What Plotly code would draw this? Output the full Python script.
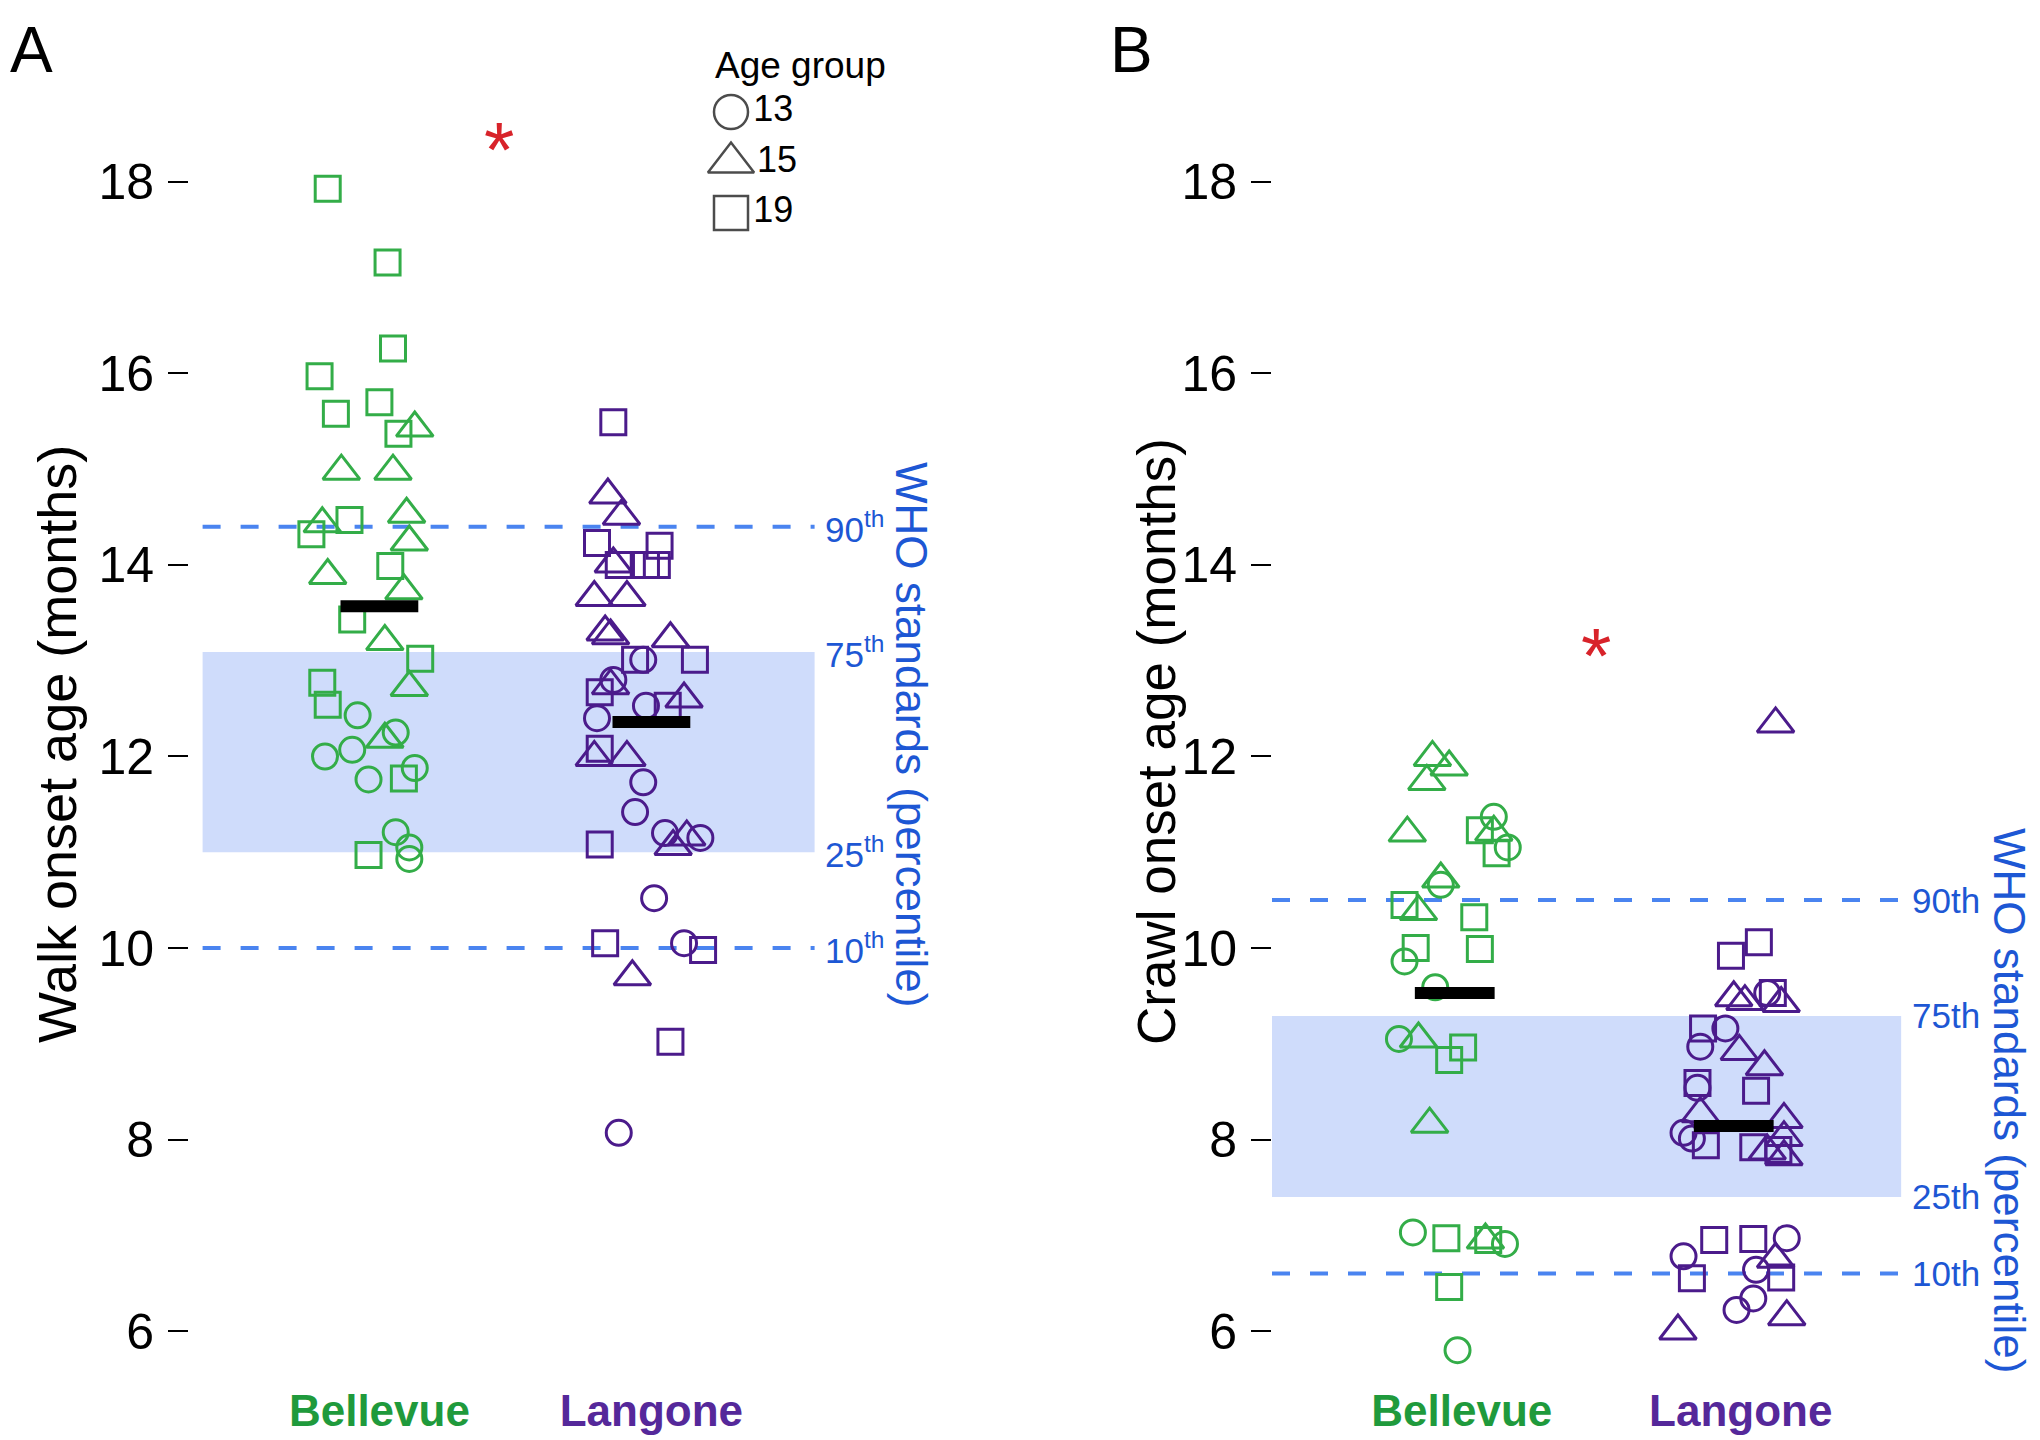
import plotly.graph_objects as go

FONT = "Liberation Sans, Arial, Helvetica, sans-serif"
GREEN = "#33ad48"
GREEN_TXT = "#1f9a3c"
PURPLE = "#4b1b8b"
PURPLE_TXT = "#55289a"
BLUE_LINE = "#4a84f0"
BAND = "#cfdcfb"
WHO_TXT = "#1d57d4"
RED = "#d8232a"

sites = ["Bellevue", "Langone"]
site_pos = [1, 2]
age_groups = ["13", "15", "19"]

# ---------- Panel A: walk onset (months) ----------
walk_bel_19 = [17.93, 17.16, 16.26, 15.97, 15.58, 15.70, 15.37, 14.47, 14.32, 13.99, 13.43, 13.02, 12.77, 12.54, 11.77, 10.97]
walk_bel_19_jit = [-0.19, 0.03, 0.05, -0.22, -0.16, 0.0, 0.07, -0.11, -0.25, 0.04, -0.10, 0.15, -0.21, -0.19, 0.09, -0.04]
walk_bel_15 = [15.43, 14.98, 14.98, 14.53, 14.43, 14.24, 13.89, 13.73, 13.20, 12.72, 12.18]
walk_bel_15_jit = [0.13, -0.14, 0.05, 0.10, -0.21, 0.11, -0.19, 0.09, 0.02, 0.11, 0.02]
walk_bel_13 = [12.43, 12.25, 12.00, 12.07, 11.76, 11.88, 11.21, 11.05, 10.93]
walk_bel_13_jit = [-0.08, 0.06, -0.20, -0.10, -0.04, 0.13, 0.06, 0.11, 0.11]

walk_lan_19 = [15.49, 14.23, 14.20, 14.00, 14.00, 14.00, 13.01, 13.01, 12.67, 12.53, 12.08, 11.08, 10.05, 9.98, 9.02]
walk_lan_19_jit = [-0.14, -0.20, 0.03, -0.12, -0.02, 0.02, -0.06, 0.16, -0.19, 0.06, -0.19, -0.19, -0.17, 0.19, 0.07]
walk_lan_15 = [14.73, 14.51, 14.01, 13.66, 13.66, 13.30, 13.26, 13.23, 12.74, 12.60, 11.99, 11.99, 11.16, 11.06, 9.70]
walk_lan_15_jit = [-0.16, -0.11, -0.14, -0.21, -0.09, -0.17, -0.15, 0.07, -0.15, 0.12, -0.21, -0.09, 0.13, 0.08, -0.07]
walk_lan_13 = [13.01, 12.80, 12.53, 12.40, 11.73, 11.42, 11.20, 11.15, 10.52, 10.05, 8.07]
walk_lan_13_jit = [-0.03, -0.14, -0.02, -0.20, -0.03, -0.06, 0.05, 0.18, 0.01, 0.12, -0.12]

walk_means = [13.57, 12.36]
walk_who = {"10th": 10.0, "25th": 11.0, "75th": 13.09, "90th": 14.4}

# ---------- Panel B: crawl onset (months) ----------
crawl_bel_15 = [11.99, 11.89, 11.74, 11.20, 11.21, 10.72, 10.38, 9.05, 8.16, 6.95]
crawl_bel_15_jit = [-0.08, -0.02, -0.10, -0.17, 0.14, -0.05, -0.13, -0.13, -0.09, 0.11]
crawl_bel_13 = [11.37, 11.05, 10.66, 9.86, 9.59, 9.05, 7.03, 6.91, 5.80]
crawl_bel_13_jit = [0.14, 0.19, -0.05, -0.18, -0.07, -0.20, -0.15, 0.18, 0.01]
crawl_bel_19 = [11.23, 10.99, 10.45, 10.32, 10.00, 9.99, 8.96, 8.83, 6.97, 6.95, 6.46]
crawl_bel_19_jit = [0.09, 0.15, -0.18, 0.07, -0.14, 0.09, 0.03, -0.02, -0.03, 0.12, -0.02]

crawl_lan_15 = [12.34, 9.48, 9.44, 9.42, 8.92, 8.76, 8.27, 8.21, 8.02, 7.88, 7.82, 6.75, 6.00, 6.15]
crawl_lan_15_jit = [0.15, 0.0, 0.04, 0.17, 0.02, 0.11, -0.12, 0.18, 0.18, 0.12, 0.18, 0.15, -0.20, 0.19]
crawl_lan_13 = [9.53, 9.16, 8.97, 8.54, 8.07, 8.01, 6.97, 6.78, 6.64, 6.34, 6.22]
crawl_lan_13_jit = [0.12, -0.03, -0.12, -0.13, -0.18, -0.15, 0.19, -0.18, 0.08, 0.07, 0.01]
crawl_lan_19 = [10.06, 9.92, 9.53, 9.16, 8.59, 8.51, 7.94, 7.92, 7.89, 6.95, 6.96, 6.55, 6.56]
crawl_lan_19_jit = [0.09, -0.01, 0.14, -0.11, -0.13, 0.08, -0.10, 0.07, 0.16, -0.07, 0.07, -0.15, 0.17]

crawl_means = [9.53, 8.14]
crawl_who = {"10th": 6.6, "25th": 7.4, "75th": 9.29, "90th": 10.5}

y_ticks = [6, 8, 10, 12, 14, 16, 18]

W, H = 2040, 1440
SYM = {"13": "circle-open", "15": "triangle-up-open", "19": "square-open"}
SIZE = {"13": 25, "15": 32, "19": 25}

fig = go.Figure()


def add_points(ys, jit, pos, age, color, xa, ya):
    fig.add_trace(go.Scatter(
        x=[pos + j for j in jit], y=ys, mode="markers",
        xaxis=xa, yaxis=ya, showlegend=False, hoverinfo="y",
        marker=dict(symbol=SYM[age], size=SIZE[age], color=color,
                    line=dict(width=3, color=color)),
    ))


# Panel A
add_points(walk_bel_19, walk_bel_19_jit, site_pos[0], "19", GREEN, "x", "y")
add_points(walk_bel_15, walk_bel_15_jit, site_pos[0], "15", GREEN, "x", "y")
add_points(walk_bel_13, walk_bel_13_jit, site_pos[0], "13", GREEN, "x", "y")
add_points(walk_lan_19, walk_lan_19_jit, site_pos[1], "19", PURPLE, "x", "y")
add_points(walk_lan_15, walk_lan_15_jit, site_pos[1], "15", PURPLE, "x", "y")
add_points(walk_lan_13, walk_lan_13_jit, site_pos[1], "13", PURPLE, "x", "y")
# Panel B
add_points(crawl_bel_19, crawl_bel_19_jit, site_pos[0], "19", GREEN, "x2", "y2")
add_points(crawl_bel_15, crawl_bel_15_jit, site_pos[0], "15", GREEN, "x2", "y2")
add_points(crawl_bel_13, crawl_bel_13_jit, site_pos[0], "13", GREEN, "x2", "y2")
add_points(crawl_lan_19, crawl_lan_19_jit, site_pos[1], "19", PURPLE, "x2", "y2")
add_points(crawl_lan_15, crawl_lan_15_jit, site_pos[1], "15", PURPLE, "x2", "y2")
add_points(crawl_lan_13, crawl_lan_13_jit, site_pos[1], "13", PURPLE, "x2", "y2")

# mean bars
HALF = 0.143
for means, xa, ya in [(walk_means, "x", "y"), (crawl_means, "x2", "y2")]:
    for p, m in zip(site_pos, means):
        fig.add_trace(go.Scatter(
            x=[p - HALF, p + HALF], y=[m, m], mode="lines",
            line=dict(color="black", width=12), xaxis=xa, yaxis=ya,
            showlegend=False, hoverinfo="skip"))

# WHO bands and dashed percentile lines
BAND_X = {"x": (0.35, 2.6), "x2": (0.345, 2.6)}
for who, xa, ya in [(walk_who, "x", "y"), (crawl_who, "x2", "y2")]:
    x0, x1 = BAND_X[xa]
    fig.add_shape(type="rect", xref=xa, yref=ya, x0=x0, x1=x1,
                  y0=who["25th"], y1=who["75th"], fillcolor=BAND,
                  line=dict(width=0), layer="below")
    for k in ["10th", "90th"]:
        fig.add_shape(type="line", xref=xa, yref=ya, x0=x0, x1=x1,
                      y0=who[k], y1=who[k], layer="below",
                      line=dict(color=BLUE_LINE, width=4, dash="18px,20px"))

# percentile labels
for who, xa, ya, sup in [(walk_who, "x", "y", True), (crawl_who, "x2", "y2", False)]:
    for k, v in who.items():
        txt = f"{k[:2]}<sup>th</sup>" if sup else k
        fig.add_annotation(x=2.63, y=v, xref=xa, yref=ya, text=txt,
                           showarrow=False, xanchor="left", yanchor="middle",
                           font=dict(family=FONT, size=35, color=WHO_TXT))

# significance stars
fig.add_annotation(x=1.44, y=18.5, xref="x", yref="y", text="*", showarrow=False,
                   xanchor="center", yanchor="middle", yshift=-16,
                   font=dict(family=FONT, size=78, color=RED))
fig.add_annotation(x=1.505, y=13.18, xref="x2", yref="y2", text="*", showarrow=False,
                   xanchor="center", yanchor="middle", yshift=-12,
                   font=dict(family=FONT, size=78, color=RED))

# y-axis titles
fig.add_annotation(x=57 / W, y=1 - 744 / H, xref="paper", yref="paper",
                   text="Walk onset age (months)", textangle=-90, showarrow=False,
                   xanchor="center", yanchor="middle",
                   font=dict(family=FONT, size=54, color="black"))
fig.add_annotation(x=1157 / W, y=1 - 742 / H, xref="paper", yref="paper",
                   text="Crawl onset age (months)", textangle=-90, showarrow=False,
                   xanchor="center", yanchor="middle",
                   font=dict(family=FONT, size=53, color="black"))

# WHO titles
fig.add_annotation(x=912 / W, y=1 - 734 / H, xref="paper", yref="paper",
                   text="WHO standards (percentile)", textangle=90, showarrow=False,
                   xanchor="center", yanchor="middle",
                   font=dict(family=FONT, size=44, color=WHO_TXT))
fig.add_annotation(x=2010 / W, y=1 - 1100 / H, xref="paper", yref="paper",
                   text="WHO standards (percentile)", textangle=90, showarrow=False,
                   xanchor="center", yanchor="middle",
                   font=dict(family=FONT, size=44, color=WHO_TXT))

# panel letters
fig.add_annotation(x=8 / W, y=1 - 12 / H, xref="paper", yref="paper", text="A",
                   showarrow=False, xanchor="left", yanchor="top",
                   font=dict(family=FONT, size=64, color="black"))
fig.add_annotation(x=1108 / W, y=1 - 12 / H, xref="paper", yref="paper", text="B",
                   showarrow=False, xanchor="left", yanchor="top",
                   font=dict(family=FONT, size=64, color="black"))

# custom legend (age groups)
fig.add_trace(go.Scatter(
    x=[0.155] * 3, y=age_groups, mode="markers+text", text=age_groups,
    textposition="middle right", xaxis="x3", yaxis="y3", showlegend=False,
    hoverinfo="skip", cliponaxis=False,
    textfont=dict(family=FONT, size=36, color="black"),
    marker=dict(symbol=[SYM[a] for a in age_groups], size=[34, 40, 34],
                color="black", line=dict(width=2.5, color="black"))))
fig.add_annotation(x=713 / W, y=1 - 66 / H, xref="paper", yref="paper",
                   text="Age group", showarrow=False, xanchor="left", yanchor="middle",
                   font=dict(family=FONT, size=37, color="black"))

tick_text = [f'<span style="color:{GREEN_TXT}"><b>{sites[0]}</b></span>',
             f'<span style="color:{PURPLE_TXT}"><b>{sites[1]}</b></span>']

ydom = [1 - 1378.9 / H, 1 - 86.2 / H]
common_y = dict(range=[5.5, 19.0], domain=ydom, tickvals=y_ticks, ticks="outside",
                ticklen=20, tickwidth=2, tickcolor="black", showgrid=False,
                zeroline=False, showline=False, ticklabelstandoff=4,
                tickfont=dict(family=FONT, size=50, color="black"))
common_x = dict(tickvals=site_pos, ticktext=tick_text, ticks="", showgrid=False,
                zeroline=False, showline=False, ticklabelstandoff=2,
                tickfont=dict(family=FONT, size=44))

fig.update_layout(
    width=W, height=H, margin=dict(l=0, r=0, t=0, b=0),
    paper_bgcolor="white", plot_bgcolor="rgba(0,0,0,0)",
    showlegend=False, font=dict(family=FONT),
    xaxis=dict(domain=[189 / W, 855.4 / W], range=[0.30, 2.75], anchor="y", **common_x),
    yaxis=dict(anchor="x", **common_y),
    xaxis2=dict(domain=[1272 / W, 1943 / W], range=[0.345, 2.75], anchor="y2",
                ticklabelshift=7, **common_x),
    yaxis2=dict(anchor="x2", **common_y),
    xaxis3=dict(domain=[700 / W, 900 / W], range=[0, 1], visible=False, fixedrange=True),
    yaxis3=dict(domain=[1 - 238.25 / H, 1 - 86.75 / H], range=[2.5, -0.5], type="category",
                categoryarray=age_groups, visible=False, anchor="x3", fixedrange=True),
)

fig.write_html("out.html", config={"displayModeBar": False},
               post_script="document.body.style.margin='0';document.body.style.overflow='hidden';")
